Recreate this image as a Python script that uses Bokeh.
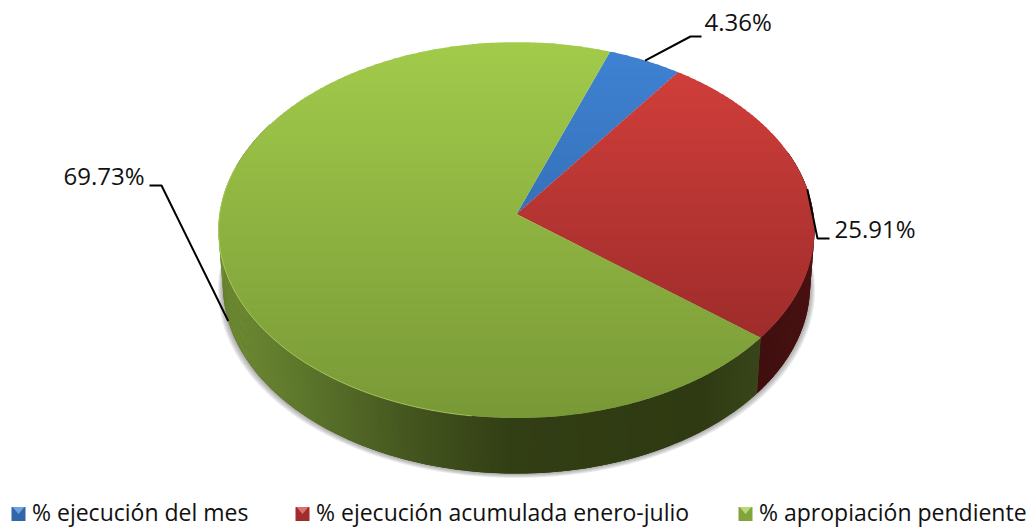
import math
import numpy as np
from bokeh.plotting import figure
from bokeh.models import ColumnDataSource
from bokeh.core.properties import value
from bokeh.embed import file_html
from bokeh.resources import INLINE

categories = ["% ejecución del mes", "% ejecución acumulada enero-julio", "% apropiación pendiente"]
values = [4.36, 25.91, 69.73]
labels = ["4.36%", "25.91%", "69.73%"]

top_from = ["#3f83d4", "#d6403c", "#a2cb4b"]
top_to = ["#2c5c9a", "#8e2726", "#789836"]
wall_stops = [
    [(200, "#1d3a60"), (800, "#1d3a60")],
    [(740, "#3c0e0e"), (815, "#4a1212")],
    [(222, "#708c34"), (300, "#5d772c"), (400, "#465820"), (510, "#323e14"), (700, "#2f3a12"), (760, "#39461a")],
]
FONT = "Open Sans"
START = 19.9
CX, APEX_Y, RX_K, AY, K = 516.0, 213.6, 296.9, 168.4, -0.0851
DEPTH, BOT_SCALE = 55.5, 0.985
label_pos = [(704, 21, "left"), (834, 228, "left"), (144, 175, "right")]
knees = [[(690, 36), (701, 36)], [(817, 238), (829, 238)], [(161, 185), (149, 185)]]
legend_x = [11, 295, 738]


def hex2rgb(h):
    return np.array([int(h[i:i + 2], 16) for i in (1, 3, 5)], float)


def mix(a, b, t):
    c = hex2rgb(a) * (1 - t) + hex2rgb(b) * t
    return "#%02x%02x%02x" % tuple(int(round(v)) for v in c)


def project(deg):
    a = np.radians(deg)
    u, v = np.sin(a), -np.cos(a)
    d = 1 + K * v
    return CX + RX_K * u / d, (AY * v + APEX_Y) / d


def project_low(deg):
    x, y = project(deg)
    return CX + (x - CX) * BOT_SCALE, y + DEPTH


def clip(poly, ymin, ymax):
    def half(pts, keep, cross):
        out = []
        for i in range(len(pts)):
            a, b = pts[i], pts[(i + 1) % len(pts)]
            if keep(a):
                out.append(a)
            if keep(a) != keep(b):
                t = (cross - a[1]) / (b[1] - a[1])
                out.append((a[0] + t * (b[0] - a[0]), cross))
        return out
    p1 = half(poly, lambda q: q[1] >= ymin, ymin)
    return half(p1, lambda q: q[1] <= ymax, ymax) if p1 else []


p = figure(width=1031, height=527, x_range=(0, 1031), y_range=(527, 0),
           output_backend="svg", toolbar_location=None, min_border=0)
p.axis.visible = False
p.grid.visible = False
p.outline_line_color = None
p.background_fill_color = "white"

bounds = [START]
for val in values:
    bounds.append(bounds[-1] + val * 3.6)
mids = [(bounds[i] + bounds[i + 1]) / 2 for i in range(3)]

# soft shadow below the wall
ang = np.linspace(60, 300, 240)
lx, ly = project_low(ang)
for i, g in enumerate([5, 4, 3, 2, 1]):
    sx = CX + (lx - CX) * (1 + g / 295)
    sy = ly + g * 0.9
    xs = list(sx) + [CX]
    ys = list(sy) + [APEX_Y + DEPTH]
    p.patch(xs, ys, fill_color="#555555", fill_alpha=0.11, line_color=None)

# side walls
wx, wy, wc = [], [], []
for i in range(3):
    a0, a1 = bounds[i], bounds[i + 1]
    a0 = max(a0, 70)
    a1 = min(a1, 300)
    if a1 <= a0:
        continue
    stops = wall_stops[i]
    sx_ = [s[0] for s in stops]
    arc = np.linspace(a0, a1, 120)
    ux, uy = project(arc)
    dx, dy = project_low(arc)
    p.patch(list(ux) + list(dx[::-1]), list(uy) + list(dy[::-1]),
            fill_color=stops[-1][1], line_color=None)
    for a in np.arange(a0, a1, 0.5):
        b = min(a + 0.8, a1)
        x1, y1 = project(a)
        x2, y2 = project(b)
        x3, y3 = project_low(b)
        x4, y4 = project_low(a)
        xm = (x1 + x2 + x3 + x4) / 4
        j = int(np.clip(np.searchsorted(sx_, xm) - 1, 0, len(stops) - 2))
        t = float(np.clip((xm - sx_[j]) / (sx_[j + 1] - sx_[j]), 0, 1))
        wx.append([x1, x2, x3, x4])
        wy.append([y1, y2, y3, y4])
        wc.append(mix(stops[j][1], stops[j + 1][1], t))
p.patches("x", "y", source=ColumnDataSource(dict(x=wx, y=wy, c=wc)), fill_color="c", line_color=None)

# top faces in horizontal bands (vertical gradient)
tx, ty, tc = [], [], []
Y0, Y1, STEP = 40.0, 420.0, 3.0
for i in range(3):
    ang = np.linspace(bounds[i], bounds[i + 1], max(8, int(values[i] * 8)))
    ex, ey = project(ang)
    poly = [(CX, APEX_Y)] + list(zip(ex, ey))
    for y in np.arange(Y0, Y1, STEP):
        piece = clip(poly, y, y + STEP + 0.8)
        if len(piece) < 3:
            continue
        tx.append([q[0] for q in piece])
        ty.append([q[1] for q in piece])
        tc.append(mix(top_from[i], top_to[i], (y - Y0) / (Y1 - Y0)))
p.patches("x", "y", source=ColumnDataSource(dict(x=tx, y=ty, c=tc)), fill_color="c", line_color=None)

# light rim on the green front edge
rx_, ry_ = project(np.linspace(188, 285, 90))
p.line(rx_, ry_, line_color="#b8dc66", line_width=1, line_alpha=0.7)

# leader lines
for i in range(3):
    ax, ay = project(mids[i]) if i < 2 else project_low(mids[i])
    xs = [ax] + [k[0] for k in knees[i]]
    ys = [ay] + [k[1] for k in knees[i]]
    p.line(xs, ys, line_color="black", line_width=2)

# data labels
for (lx_, ly_, al), txt in zip(label_pos, labels):
    p.text([lx_], [ly_], text=[txt], text_font=value(FONT), text_font_size="24px",
           text_color="#111111", text_align=al, text_baseline="middle")

# legend
for i, (lg, cat) in enumerate(zip(legend_x, categories)):
    y0, y1 = 506.5, 520.5
    x0, x1 = lg, lg + 14
    p.quad(left=[x0], right=[x1], top=[y0], bottom=[y1],
           fill_color=mix(top_from[i], top_to[i], 0.75), line_color=None)
    p.patch([x0 + 1, x1 - 1, (x0 + x1) / 2], [y0, y0, y0 + 7],
            fill_color=mix(top_from[i], "#ffffff", 0.25), line_color=None)
    p.text([x1 + 6.5], [511.5], text=[cat], text_font=value(FONT), text_font_size="23px",
           text_color="#111111", text_align="left", text_baseline="middle")

open("out.html", "w").write(file_html(p, INLINE))
